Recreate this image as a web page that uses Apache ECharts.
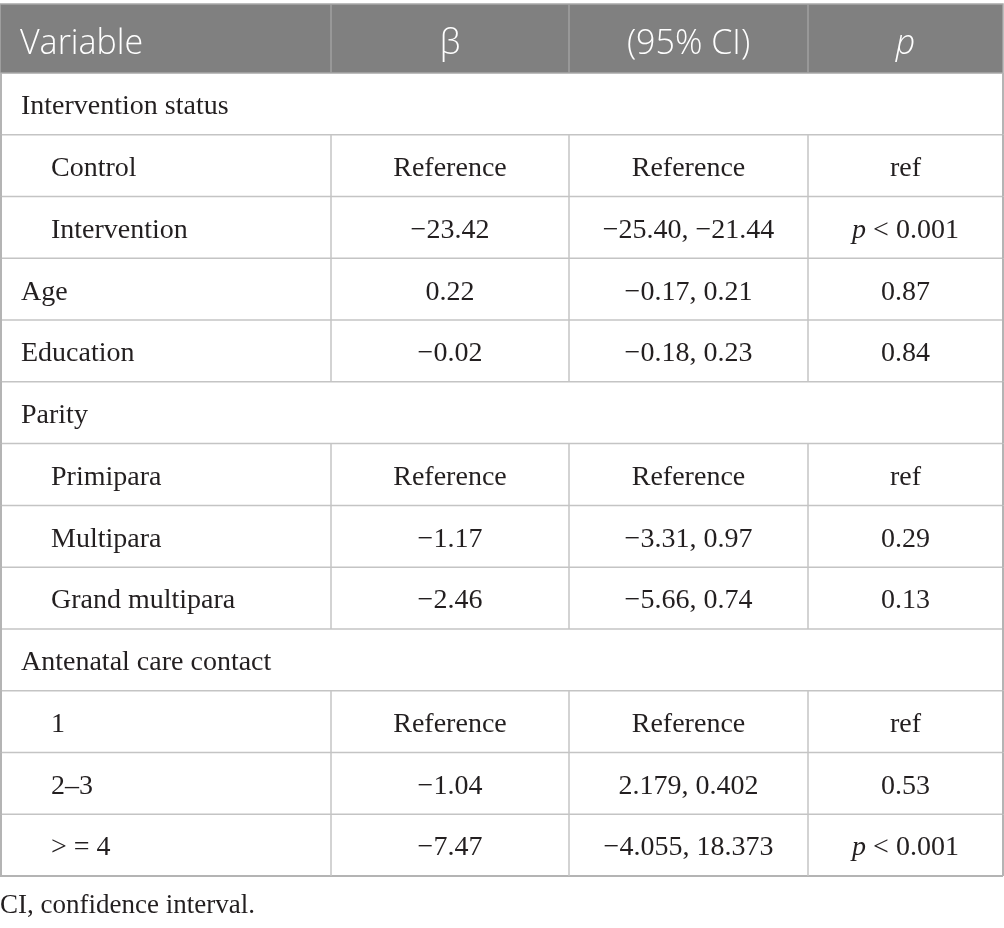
<!DOCTYPE html>
<html>
<head>
<meta charset="utf-8">
<script src="https://cdn.jsdelivr.net/npm/echarts@6/dist/echarts.min.js"></script>
<style>
  html, body { margin: 0; padding: 0; background: #fff; }
  #main { width: 1004px; height: 928px; }
</style>
</head>
<body>
<div id="main"></div>
<script>
// table content
const headers = ['Variable', 'β', '(95% CI)', 'p'];
const variables = ['Intervention status', 'Control', 'Intervention', 'Age', 'Education', 'Parity',
  'Primipara', 'Multipara', 'Grand multipara', 'Antenatal care contact', '1', '2–3', '> = 4'];
const indented = [0, 1, 1, 0, 0, 0, 1, 1, 1, 0, 1, 1, 1];
const groupRows = [1, 0, 0, 0, 0, 1, 0, 0, 0, 1, 0, 0, 0];
const betas = ['', 'Reference', '−23.42', '0.22', '−0.02', '', 'Reference', '−1.17', '−2.46', '', 'Reference', '−1.04', '−7.47'];
const cis = ['', 'Reference', '−25.40, −21.44', '−0.17, 0.21', '−0.18, 0.23', '', 'Reference', '−3.31, 0.97', '−5.66, 0.74', '', 'Reference', '2.179, 0.402', '−4.055, 18.373'];
const pValues = ['', 'ref', 'p < 0.001', '0.87', '0.84', '', 'ref', '0.29', '0.13', '', 'ref', '0.53', 'p < 0.001'];
const footnote = 'CI, confidence interval.';

// layout (column edges in the x axis units)
const colEdges = [0, 331, 569, 808, 1003];
const lineColor = '#c4c4c4';
const bodyFont = '28px "Liberation Serif"';
const headFont = '300 34px "Open Sans"';
const textColor = '#231f20';

const chart = echarts.init(document.getElementById('main'));

function cellX(api, yVal) {
  return colEdges.map(e => api.coord([e, yVal])[0]);
}

function headerItem(params, api) {
  const yv = api.value(1);
  const c = api.coord([0, yv]);
  const h = api.size([0, 1])[1];
  const y0 = c[1] - h / 2, y1 = c[1] + h / 2;
  const xs = cellX(api, yv);
  const kids = [{
    type: 'rect', shape: { x: xs[0], y: y0, width: xs[4] - xs[0], height: h },
    style: { fill: '#808080', stroke: '#a8a8a8', lineWidth: 1.5 }
  }];
  [1, 2, 3].forEach(k => kids.push({
    type: 'line', shape: { x1: xs[k], y1: y0, x2: xs[k], y2: y1 },
    style: { stroke: '#a0a0a0', lineWidth: 1.5 }
  }));
  headers.forEach((t, k) => {
    const left = k === 0;
    kids.push({
      type: 'text',
      style: {
        text: t, x: left ? xs[0] + 20 : (xs[k] + xs[k + 1]) / 2, y: c[1] + 6,
        textAlign: left ? 'left' : 'center', textVerticalAlign: 'middle',
        font: (k === 3 ? 'italic ' : '') + headFont, fill: '#ffffff'
      }
    });
  });
  return { type: 'group', children: kids };
}

function bodyItem(params, api) {
  const r = api.value(1);
  const c = api.coord([0, r]);
  const h = api.size([0, 1])[1];
  const y0 = c[1] - h / 2, y1 = c[1] + h / 2;
  const ty = c[1] + 3;
  const xs = cellX(api, r);
  const last = r === variables.length - 1;
  const kids = [];
  kids.push({
    type: 'line', shape: { x1: xs[0], y1: y1, x2: xs[4], y2: y1 },
    style: { stroke: last ? '#b4b4b4' : lineColor, lineWidth: last ? 2 : 1.5 }
  });
  kids.push({ type: 'line', shape: { x1: xs[0] + 1, y1: y0, x2: xs[0] + 1, y2: y1 }, style: { stroke: '#b4b4b4', lineWidth: 2 } });
  kids.push({ type: 'line', shape: { x1: xs[4], y1: y0, x2: xs[4], y2: y1 }, style: { stroke: '#b4b4b4', lineWidth: 2 } });
  if (!groupRows[r]) {
    [1, 2, 3].forEach(k => kids.push({
      type: 'line', shape: { x1: xs[k], y1: y0, x2: xs[k], y2: y1 },
      style: { stroke: lineColor, lineWidth: 1.5 }
    }));
  }
  kids.push({
    type: 'text',
    style: {
      text: variables[r], x: xs[0] + (indented[r] ? 51 : 21), y: ty,
      textAlign: 'left', textVerticalAlign: 'middle', font: bodyFont, fill: textColor
    }
  });
  [betas[r], cis[r]].forEach((t, k) => {
    kids.push({
      type: 'text',
      style: {
        text: t, x: (xs[k + 1] + xs[k + 2]) / 2, y: ty,
        textAlign: 'center', textVerticalAlign: 'middle', font: bodyFont, fill: textColor
      }
    });
  });
  const pv = pValues[r];
  const isP = pv.indexOf('p ') === 0;
  kids.push({
    type: 'text',
    style: {
      text: isP ? '{i|p}{n|' + pv.slice(1) + '}' : pv,
      x: (xs[3] + xs[4]) / 2, y: ty,
      textAlign: 'center', textVerticalAlign: 'middle', font: bodyFont, fill: textColor,
      rich: {
        i: { font: 'italic ' + bodyFont, fill: textColor },
        n: { font: bodyFont, fill: textColor }
      }
    }
  });
  return { type: 'group', children: kids };
}

chart.setOption({
  backgroundColor: '#ffffff',
  animation: false,
  title: {
    text: footnote, left: 0, top: 892, padding: 0,
    textStyle: { fontFamily: 'Liberation Serif', fontSize: 27, fontWeight: 'normal', color: textColor }
  },
  grid: [
    { left: 0, right: 0, top: 4, height: 69 },
    { left: 0, right: 0, top: 73, height: 803 }
  ],
  xAxis: [
    { type: 'value', gridIndex: 0, min: 0, max: 1004, show: false },
    { type: 'value', gridIndex: 1, min: 0, max: 1004, show: false }
  ],
  yAxis: [
    { type: 'category', gridIndex: 0, data: ['header'], show: false },
    { type: 'category', gridIndex: 1, data: variables, inverse: true, show: false }
  ],
  series: [
    {
      type: 'custom', xAxisIndex: 0, yAxisIndex: 0,
      renderItem: headerItem, data: [[0, 0]], silent: true
    },
    {
      type: 'custom', xAxisIndex: 1, yAxisIndex: 1,
      renderItem: bodyItem, data: variables.map((v, i) => [0, i]), silent: true
    }
  ]
});
</script>
</body>
</html>
